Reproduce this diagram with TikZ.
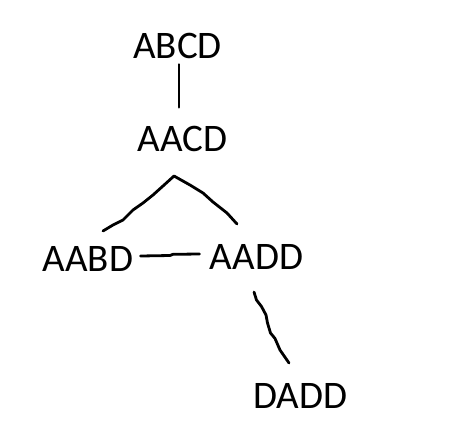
\documentclass[tikz,border=0pt]{standalone}
\usepackage{fontspec}
\usetikzlibrary{calc}
\setmainfont{Carlito}
\begin{document}
\begin{tikzpicture}[x=1pt,y=-1pt,line width=2.8pt,line cap=round,line join=round,
  word/.style={inner sep=0pt,font=\fontsize{39}{39}\selectfont,text height=25pt,text depth=0pt}]
\useasboundingbox (0,0) rectangle (450,445);
\node[word] (abcd) at (177.5,45.5){ABCD};
\node[word] (aacd) at (182.5,139){AACD};
\node[word] (aabd) at (88,259){AABD};
\node[word] (aadd) at (256.5,257){AADD};
\node[word] (dadd) at (300,395.5){DADD};
\coordinate (top) at (174,176);
\coordinate (lft) at (103,231);
\coordinate (rgt) at (237,224);
\coordinate (wtop) at (254,292);
\coordinate (wbot) at (289,363);
\draw[line width=2.4pt](abcd.south -| 179,0) ++(0,5) -- ++(0,43);
\draw[](lft) -- (113,225) -- (123,220) -- (133,210) -- (143,203) -- (153,195) -- (163,186) -- (top) -- (190,185) -- (203,193) -- (213,202) -- (227,213) -- (rgt);
\draw[](aabd.east) ++(6,-3) -- (170,255.5) -- (173,254.3) -- ($(aadd.west)+(-9,-3)$);
\draw[](wtop) -- (256.5,300) -- (261.5,306.5) -- (266,315) -- (267.5,323) -- (270.5,333) -- (275,338.5) -- (280,350) -- (wbot);
\end{tikzpicture}
\end{document}
